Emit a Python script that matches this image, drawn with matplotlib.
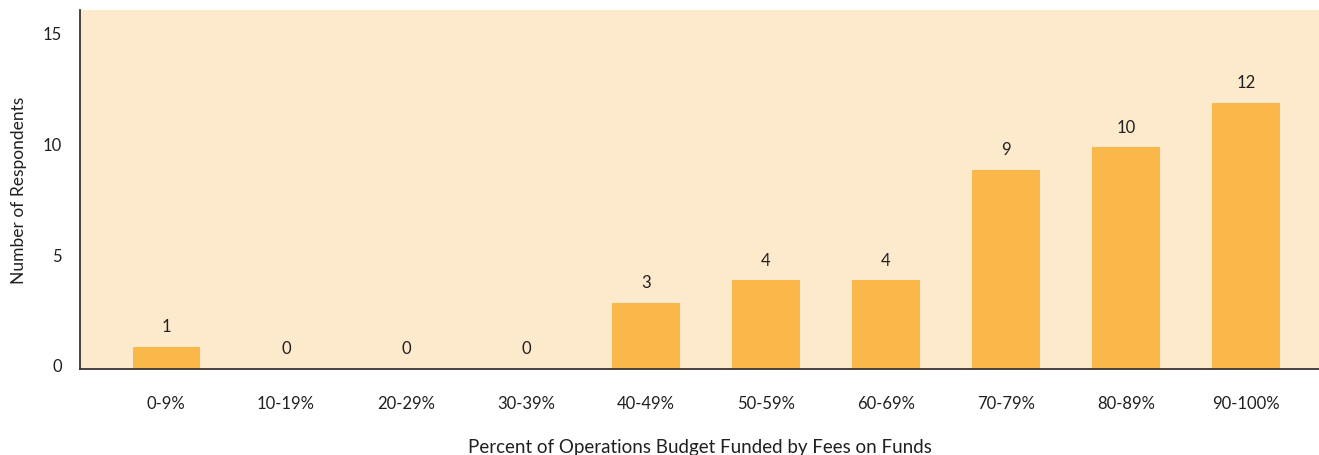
import matplotlib.pyplot as plt
import matplotlib.transforms as mtransforms

# data
categories = ["0-9%", "10-19%", "20-29%", "30-39%", "40-49%",
              "50-59%", "60-69%", "70-79%", "80-89%", "90-100%"]
respondents = [1, 0, 0, 0, 3, 4, 4, 9, 10, 12]
y_ticks = [0, 5, 10, 15]

plt.rcParams['font.family'] = ['Lato', 'DejaVu Sans']
text_color = "#231f20"

fig = plt.figure(figsize=(13.19, 4.56), dpi=100)
ax = fig.add_axes([0.0607, 0.1886, 0.9393, 0.7873])
ax.set_facecolor("#fde9cc")

x = range(len(categories))
bars = ax.bar(x, respondents, width=0.56, color="#fab84b", zorder=2)

# value labels above each bar
for xi, v in zip(x, respondents):
    ax.annotate(str(v), (xi, v), xytext=(0, 15), textcoords="offset points",
                ha="center", va="center", fontsize=12, color=text_color)

ax.set_xlim(-0.717, 9.608)
ax.set_ylim(0, 16.2)
ax.set_xticks(list(x))
ax.set_xticklabels(categories)
ax.set_yticks(y_ticks)
ax.tick_params(axis="both", length=0, labelsize=12, colors=text_color)
ax.tick_params(axis="x", pad=19)
ax.tick_params(axis="y", pad=13)

# y tick labels sit slightly above their gridline in the original
offset = mtransforms.ScaledTranslation(0, 3 / 72, fig.dpi_scale_trans)
for lab in ax.get_yticklabels():
    lab.set_transform(lab.get_transform() + offset)

for side in ["top", "right"]:
    ax.spines[side].set_visible(False)
for side in ["left", "bottom"]:
    ax.spines[side].set_color("#3a3434")
    ax.spines[side].set_linewidth(1.3)

ax.set_xlabel("Percent of Operations Budget Funded by Fees on Funds",
              fontsize=13.5, color=text_color, labelpad=19)
ax.set_ylabel("Number of Respondents", fontsize=12.5, color=text_color)
ax.yaxis.set_label_coords(-0.043, 0.5)

fig.savefig("out.png", dpi=100)
